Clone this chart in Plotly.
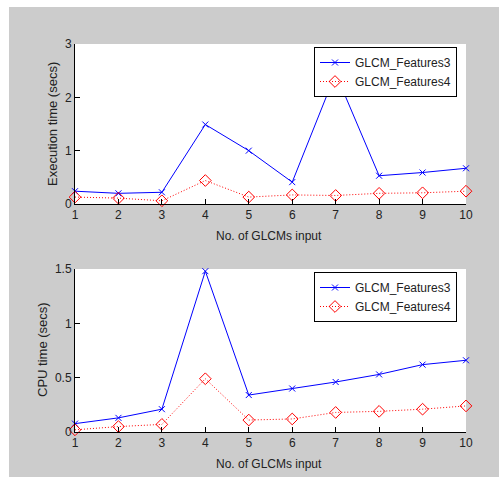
import plotly.graph_objects as go

x_inputs = [1, 2, 3, 4, 5, 6, 7, 8, 9, 10]
exec_f3 = [0.24, 0.20, 0.22, 1.49, 1.00, 0.41, 2.45, 0.53, 0.59, 0.67]
exec_f4 = [0.13, 0.11, 0.06, 0.44, 0.13, 0.17, 0.16, 0.20, 0.21, 0.24]
cpu_f3 = [0.077, 0.13, 0.21, 1.48, 0.34, 0.40, 0.46, 0.53, 0.62, 0.66]
cpu_f4 = [0.02, 0.05, 0.07, 0.49, 0.11, 0.12, 0.18, 0.19, 0.21, 0.24]
name3 = "GLCM_Features3"
name4 = "GLCM_Features4"

W, H = 504, 479
FONT = "Liberation Sans, Arial, sans-serif"
BLUE = "#0000ff"
RED = "#ff0000"

fig = go.Figure()

def add_pair(f3, f4, xa, ya, leg):
    fig.add_trace(go.Scatter(
        x=x_inputs, y=f3, name=name3, mode="lines+markers", xaxis=xa, yaxis=ya,
        legend=leg, cliponaxis=False,
        line=dict(color=BLUE, width=1),
        marker=dict(symbol="x-thin", size=6, line=dict(color=BLUE, width=1))))
    fig.add_trace(go.Scatter(
        x=x_inputs, y=f4, name=name4, mode="lines+markers", xaxis=xa, yaxis=ya,
        legend=leg, cliponaxis=False,
        line=dict(color=RED, width=1, dash="1px,2px"),
        marker=dict(symbol="diamond-open", size=9, color=RED, line=dict(color=RED, width=1))))

add_pair(exec_f3, exec_f4, "x", "y", "legend")
add_pair(cpu_f3, cpu_f4, "x2", "y2", "legend2")

xdom = [75 / W, 466 / W]
top_dom = [(H - 204) / H, (H - 44) / H]
bot_dom = [(H - 432) / H, (H - 269) / H]

axis_common = dict(showgrid=False, zeroline=False, showline=True, linecolor="black",
                   linewidth=1, ticks="inside", ticklen=5, tickcolor="black",
                   tickfont=dict(family=FONT, size=12, color="#222222"),
                   automargin=False, mirror=False)

legend_common = dict(xanchor="right", yanchor="top",
                     bgcolor="white", bordercolor="black", borderwidth=1,
                     font=dict(family=FONT, size=12, color="#222222"),
                     tracegroupgap=0, itemwidth=30)

fig.update_layout(
    width=W, height=H,
    margin=dict(l=0, r=0, t=0, b=0),
    paper_bgcolor="#cccccc", plot_bgcolor="white",
    showlegend=True,
    xaxis=dict(domain=xdom, range=[1, 10], tickvals=x_inputs, anchor="y", **axis_common),
    yaxis=dict(domain=top_dom, range=[0, 3], tickvals=[0, 1, 2, 3], anchor="x", **axis_common),
    xaxis2=dict(domain=xdom, range=[1, 10], tickvals=x_inputs, anchor="y2", **axis_common),
    yaxis2=dict(domain=bot_dom, range=[0, 1.5], tickvals=[0, 0.5, 1, 1.5],
                ticktext=["0", "0.5", "1", "1.5"], anchor="x2", **axis_common),
    legend=dict(x=457 / W, y=(H - 47) / H, **legend_common),
    legend2=dict(x=457 / W, y=(H - 272) / H, **legend_common),
)

# white outer margins around the grey figure panel
for (x0, x1, y0, y1) in [(0, 9, 0, H), (499, W, 0, H), (0, W, 0, 7), (0, W, 477, H)]:
    fig.add_shape(type="rect", xref="paper", yref="paper",
                  x0=x0 / W, x1=x1 / W, y0=1 - y1 / H, y1=1 - y0 / H,
                  fillcolor="white", line=dict(width=0), layer="below")

def note(text, px, py, angle=0, size=12):
    fig.add_annotation(text=text, xref="paper", yref="paper", x=px / W, y=1 - py / H,
                       showarrow=False, textangle=angle, xanchor="center", yanchor="middle",
                       font=dict(family=FONT, size=size, color="#222222"))

note("No. of GLCMs input", 269, 236)
note("No. of GLCMs input", 269, 464)
note("Execution time (secs)", 53, 124, angle=-90, size=13)
note("CPU time (secs)", 42, 350, angle=-90, size=13)

fig.write_html("out.html", config={"displayModeBar": False},
               post_script="document.body.style.margin='0';document.body.style.overflow='hidden';")
